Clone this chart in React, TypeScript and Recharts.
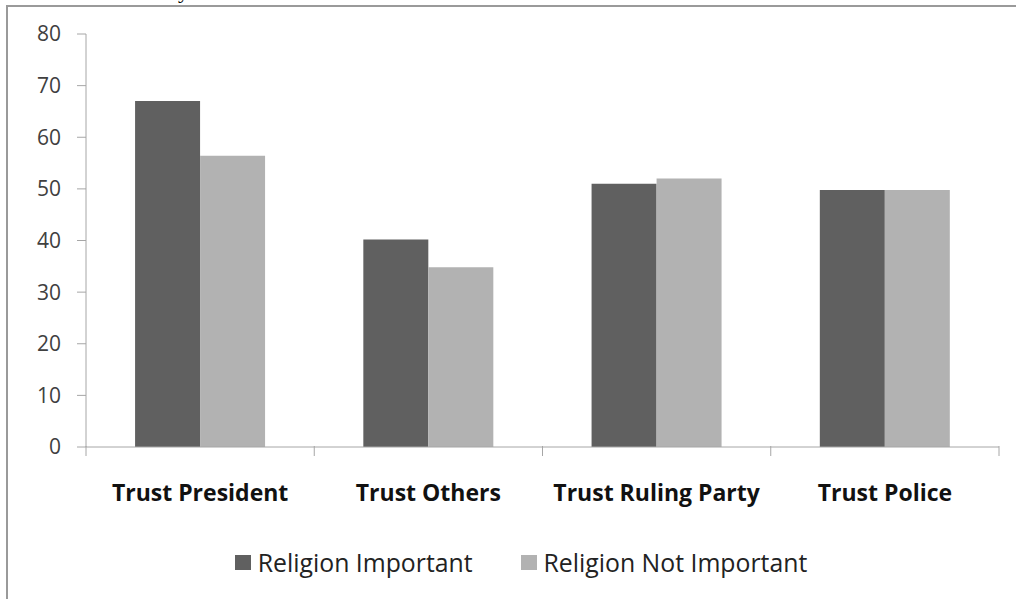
import React from "react";
import { BarChart, Bar, XAxis, YAxis, Legend } from "recharts";

const categories = ["Trust President", "Trust Others", "Trust Ruling Party", "Trust Police"];
const religionImportant = [67, 40.2, 51, 49.8];
const religionNotImportant = [56.4, 34.8, 52, 49.8];
const yTicks = [0, 10, 20, 30, 40, 50, 60, 70, 80];
const seriesNames = ["Religion Important", "Religion Not Important"];
const seriesColors = ["#606060", "#b2b2b2"];

const data = categories.map((c, i) => ({
  name: c,
  imp: religionImportant[i],
  notImp: religionNotImportant[i],
}));

const LegendContent = () => (
  <div style={{ display: "flex", justifyContent: "center", alignItems: "center", fontFamily: "Open Sans", fontSize: 24.8, color: "#222", height: 32 }}>
    {seriesNames.map((n, i) => (
      <div key={n} style={{ display: "flex", alignItems: "center", marginRight: i === 0 ? 48 : 0 }}>
        <span style={{ display: "inline-block", width: 16, height: 15, background: seriesColors[i], marginRight: 7 }} />
        <span>{n}</span>
      </div>
    ))}
  </div>
);

const CategoryTick = (props: any) => {
  const { x, y, payload, index, width, visibleTicksCount } = props;
  const band = width / visibleTicksCount;
  const axisY = y - 39;
  return (
    <g>
      <line x1={x - band / 2} x2={x - band / 2} y1={axisY} y2={axisY + 10} stroke="#a6a6a6" />
      {index === visibleTicksCount - 1 && (
        <line x1={x + band / 2} x2={x + band / 2} y1={axisY} y2={axisY + 10} stroke="#a6a6a6" />
      )}
      <text x={x} y={y} dy="0.71em" textAnchor="middle" fill="#111" fontFamily="Open Sans" fontWeight={700} fontSize={23}>
        {payload.value}
      </text>
    </g>
  );
};

export default function App() {
  return (
    <div style={{ position: "fixed", left: 0, top: 0, width: 1016, height: 599, background: "#fff", overflow: "hidden" }}>
      <div style={{ position: "absolute", left: 178, top: -20, fontFamily: "Liberation Serif", fontSize: 22, color: "#000", lineHeight: "22px", height: 24 }}>y</div>
      <div style={{ position: "absolute", left: 6, top: 5, right: 0, height: 2, background: "#9a9a9a" }} />
      <div style={{ position: "absolute", left: 6, top: 5, bottom: 0, width: 2, background: "#9a9a9a" }} />
      <div style={{ position: "absolute", left: 0, top: 0 }}>
        <BarChart
          width={1016}
          height={599}
          data={data}
          margin={{ top: 34, right: 17, left: 0, bottom: 83 }}
          barCategoryGap="21.5%"
          barGap={0}
        >
          <YAxis
            width={86}
            domain={[0, 80]}
            ticks={yTicks}
            interval={0}
            tickSize={9}
            tickMargin={16}
            stroke="#a6a6a6"
            tick={{ fill: "#404040", fontFamily: "Open Sans", fontSize: 21 }}
          />
          <XAxis
            dataKey="name"
            height={37}
            interval={0}
            tickLine={false}
            stroke="#a6a6a6"
            tickMargin={32}
            tick={<CategoryTick />}
          />
          <Legend
            verticalAlign="bottom"
            content={<LegendContent />}
            wrapperStyle={{ position: "absolute", top: 546, left: 13, width: 1016, bottom: "auto" }}
          />
          <Bar dataKey="imp" name={seriesNames[0]} fill={seriesColors[0]} isAnimationActive={false} />
          <Bar dataKey="notImp" name={seriesNames[1]} fill={seriesColors[1]} isAnimationActive={false} />
        </BarChart>
      </div>
    </div>
  );
}
